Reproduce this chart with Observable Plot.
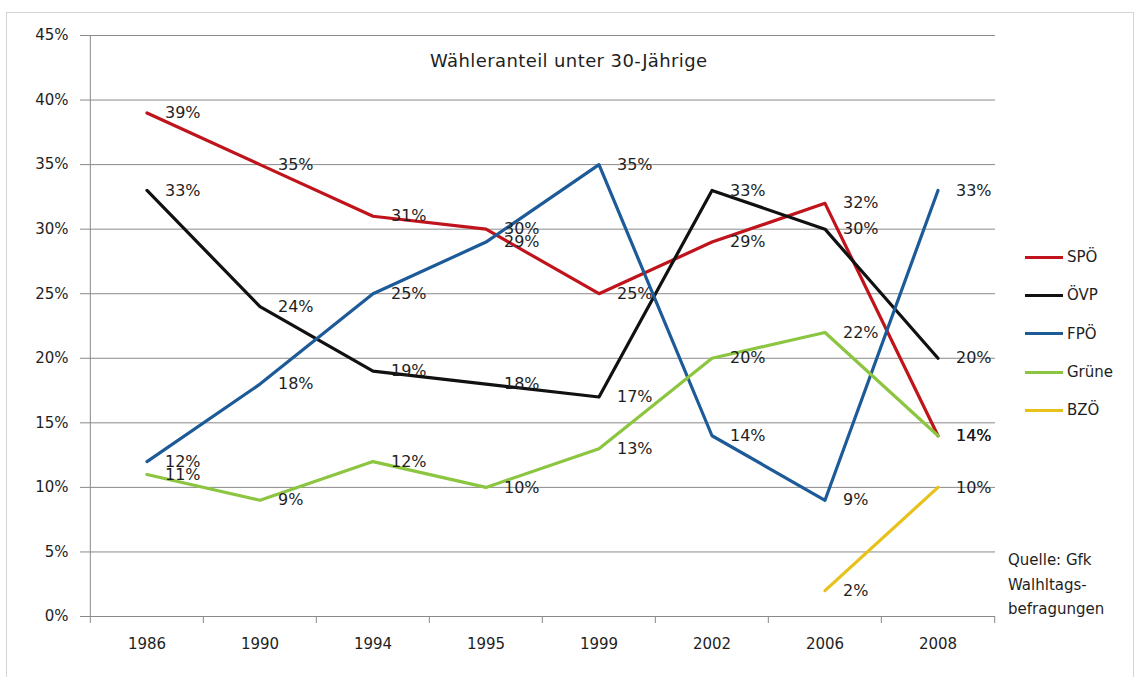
<!DOCTYPE html>
<html><head><meta charset="utf-8">
<script src="https://cdn.jsdelivr.net/npm/d3@7"></script>
<script src="https://cdn.jsdelivr.net/npm/@observablehq/plot@0.6"></script>
<style>
body{margin:0;background:#fff;font-family:"DejaVu Sans",sans-serif;color:#222;}
#wrap{position:relative;width:1140px;height:677px;overflow:hidden;}
#frame{position:absolute;left:6px;top:12px;width:1128px;height:700px;border:1px solid #d4d4d4;box-sizing:border-box;}
#chart{position:absolute;left:0;top:0;}
#title{position:absolute;left:430px;top:50px;font-size:18px;letter-spacing:0.4px;white-space:nowrap;color:#1e1e1e;}
#legend{position:absolute;left:1025px;top:238px;}
.li{display:flex;align-items:center;height:38.3px;font-size:15px;color:#1e1e1e;}
.li span.sw{display:inline-block;width:38px;height:3px;margin-right:4px;}
#source{position:absolute;left:1008px;top:548px;font-size:15px;line-height:24.5px;color:#1e1e1e;}
</style>
</head><body>
<div id="wrap">
<div id="frame"></div>
<div id="chart"></div>
<div id="title"></div>
<div id="legend"></div>
<div id="source"></div>
</div>
<script>
const years = ["1986","1990","1994","1995","1999","2002","2006","2008"];
const parties = ["SPÖ","ÖVP","FPÖ","Grüne","BZÖ"];
const colors = ["#c0141c","#111111","#1d5a98","#8cc540","#e8c21a"];
const spo   = [39,35,31,30,25,29,32,14];
const ovp   = [33,24,19,18,17,33,30,20];
const fpo   = [12,18,25,29,35,14,9,33];
const grune = [11,9,12,10,13,20,22,14];
const bzo   = [null,null,null,null,null,null,2,10];
const yTicks = [0,5,10,15,20,25,30,35,40,45];
const titleText = "Wähleranteil unter 30-Jährige";
const sourceLines = ["Quelle: Gfk","Walhltags-","befragungen"];

const seriesValues = [spo, ovp, fpo, grune, bzo];
const rows = [];
parties.forEach((p, k) => seriesValues[k].forEach((v, i) => {
  if (v != null) rows.push({party: p, year: years[i], value: v});
}));

const W = 1140, H = 677, ml = 88, mr = 145, mt = 35, mb = 61;
const bw = (W - ml - mr) / years.length;

const plot = Plot.plot({
  width: W, height: H,
  marginLeft: ml, marginRight: mr, marginTop: mt, marginBottom: mb,
  style: {fontFamily: "DejaVu Sans, sans-serif", background: "transparent"},
  x: {type: "band", domain: years, padding: 0, axis: null},
  y: {domain: [0, 45], axis: null},
  color: {domain: parties, range: colors},
  marks: [
    Plot.ruleY(yTicks, {stroke: "#8a8a8a", strokeWidth: 1}),
    Plot.ruleX([years[0]], {dx: -bw / 2, stroke: "#8a8a8a", strokeWidth: 1}),
    Plot.ruleX(years, {dx: -bw / 2, y1: 0, y2: 0, insetBottom: -7, stroke: "#8a8a8a"}),
    Plot.ruleX([years[years.length - 1]], {dx: bw / 2, y1: 0, y2: 0, insetBottom: -7, stroke: "#8a8a8a"}),
    Plot.axisY({ticks: yTicks, tickFormat: d => d + "%", tickSize: 8, tickPadding: 12, fontSize: 15, stroke: "#8a8a8a", fill: "#1e1e1e", label: null}),
    Plot.axisX({tickSize: 0, tickPadding: 22, fontSize: 15, fill: "#1e1e1e", label: null}),
    Plot.line(rows, {x: "year", y: "value", z: "party", stroke: "party", strokeWidth: 3.2}),
    Plot.text(rows, {x: "year", y: "value", text: d => d.value + "%", textAnchor: "start", dx: 18, fontSize: 16, fill: "#1e1e1e"})
  ]
});
document.getElementById("chart").appendChild(plot);

document.getElementById("title").textContent = titleText;
const leg = document.getElementById("legend");
parties.forEach((p, k) => {
  const d = document.createElement("div");
  d.className = "li";
  const sw = document.createElement("span");
  sw.className = "sw";
  sw.style.background = colors[k];
  d.appendChild(sw);
  d.appendChild(document.createTextNode(p));
  leg.appendChild(d);
});
document.getElementById("source").innerHTML = sourceLines.join("<br>");
</script>
</body></html>
